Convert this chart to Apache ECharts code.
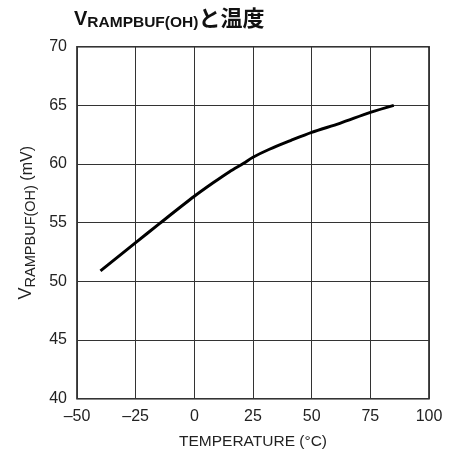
<!DOCTYPE html>
<html><head><meta charset="utf-8">
<script src="https://cdn.jsdelivr.net/npm/echarts@6/dist/echarts.min.js"></script>
<style>html,body{margin:0;padding:0;background:#fff}#c{width:457px;height:456px}</style>
</head><body><div id="c"></div>
<script>
const temperature = [-40, -25, -15, 0, 8, 15, 21, 25, 32, 41, 50, 62, 75, 85];
const vrampbuf = [50.9, 53.3, 54.9, 57.25, 58.4, 59.35, 60.07, 60.58, 61.26, 62.0, 62.7, 63.47, 64.4, 65.0];
const xTicks = [-50, -25, 0, 25, 50, 75, 100];
const yTicks = [40, 45, 50, 55, 60, 65, 70];

const FONT = '"Liberation Sans", Arial, sans-serif';
const fmtNum = v => (v < 0 ? '\u2013' + Math.abs(v) : String(v));

const chart = echarts.init(document.getElementById('c'), null, {renderer: 'canvas'});
chart.setOption({
  animation: false,
  backgroundColor: '#fff',
  title: {
    left: 74, top: 2, padding: 0,
    text: '{v|V}{s|RAMPBUF(OH)}{j|と温度}',
    textStyle: {
      rich: {
        v: {fontFamily: FONT, fontWeight: 'bold', fontSize: 20, color: '#111', verticalAlign: 'bottom', lineHeight: 24},
        s: {fontFamily: FONT, fontWeight: 'bold', fontSize: 15.5, color: '#111', verticalAlign: 'bottom', lineHeight: 18, padding: [0,0,-2,0]},
        j: {fontFamily: '"Noto Sans CJK JP", sans-serif', fontWeight: 'bold', fontSize: 22, color: '#111', verticalAlign: 'bottom', lineHeight: 27}
      }
    }
  },
  grid: {left: 77, right: 28, top: 46.7, bottom: 57.3, show: true, borderColor: '#111', borderWidth: 1.5},
  xAxis: {
    type: 'value', min: -50, max: 100, interval: 25,
    name: 'TEMPERATURE (°C)', nameLocation: 'middle', nameGap: 35,
    nameTextStyle: {fontFamily: FONT, fontSize: 15.5, color: '#222'},
    axisLine: {show: false}, axisTick: {show: false},
    axisLabel: {fontFamily: FONT, fontSize: 16, color: '#222', margin: 10,
      formatter: v => xTicks.includes(v) ? fmtNum(v) : ''},
    splitLine: {show: true, lineStyle: {color: '#333', width: 1}}
  },
  yAxis: {
    type: 'value', min: 40, max: 70, interval: 5,
    name: '{v|V}{s|RAMPBUF(OH)}{n| (mV)}', nameLocation: 'middle', nameGap: 38, nameRotate: 90,
    nameTextStyle: {
      rich: {
        v: {fontFamily: FONT, fontSize: 18, color: '#222', verticalAlign: 'bottom', lineHeight: 20},
        s: {fontFamily: FONT, fontSize: 14.5, color: '#222', verticalAlign: 'bottom', lineHeight: 16, padding: [0,0,-3,0]},
        n: {fontFamily: FONT, fontSize: 16, color: '#222', verticalAlign: 'bottom', lineHeight: 20}
      }
    },
    axisLine: {show: false}, axisTick: {show: false},
    axisLabel: {fontFamily: FONT, fontSize: 16, color: '#222', margin: 10,
      formatter: v => yTicks.includes(v) ? String(v) : ''},
    splitLine: {show: true, lineStyle: {color: '#333', width: 1}}
  },
  series: [{
    type: 'line', smooth: 0.3, symbol: 'none',
    data: temperature.map((t, i) => [t, vrampbuf[i]]),
    lineStyle: {color: '#000', width: 3}
  }]
});
</script></body></html>
